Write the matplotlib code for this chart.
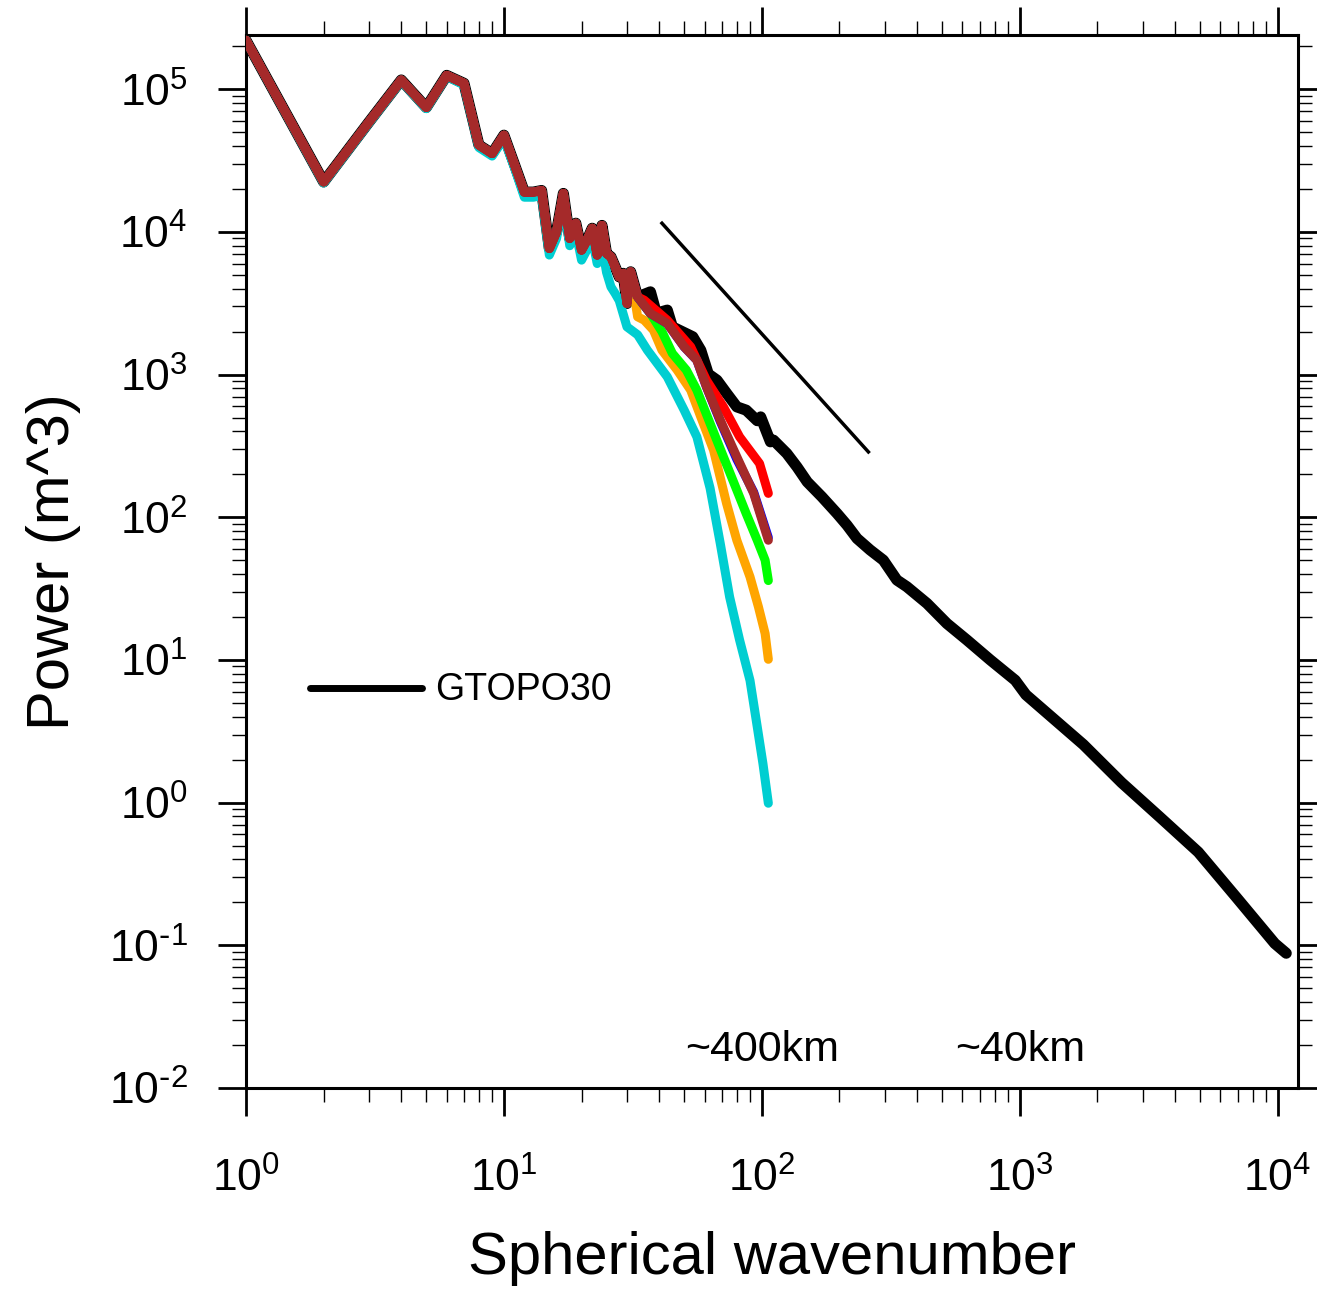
import matplotlib
matplotlib.use("Agg")
import matplotlib.pyplot as plt
import matplotlib.ticker as mticker
import numpy as np

plt.rcParams['font.family'] = ['Liberation Sans', 'DejaVu Sans']
plt.rcParams['axes.unicode_minus'] = False

# shared low-wavenumber part of every spectrum
n_common = [1, 2, 3, 4, 5, 6, 7, 8, 9, 10, 11, 12, 13, 14, 15, 16, 17, 18, 19, 20,
            21, 22, 23, 24, 25, 26, 27, 28, 29, 30]
p_common = [2.2e5, 2.24e4, 5.9e4, 1.16e5, 7.45e4, 1.25e5, 1.1e5, 4.06e4, 3.54e4, 4.76e4,
            2.95e4, 1.9e4, 1.9e4, 1.95e4, 7650, 1.0e4, 1.86e4, 9000, 1.15e4, 7450,
            8750, 1.06e4, 6880, 1.11e4, 7060, 6680, 5690, 4840, 5120, 3150]

# GTOPO30 (black)
n_gtopo = [31, 33, 37, 39, 43, 45, 54, 58, 62, 67, 73, 80, 87, 96, 99, 108, 111, 125,
           137, 150, 171, 196, 214, 234, 263, 296, 334, 365, 437, 522, 624, 769, 961,
           1057, 1766, 2485, 3500, 4924, 6930, 9750, 10800]
p_gtopo = [5250, 3500, 3800, 2690, 2830, 2160, 1840, 1480, 1010, 914, 740, 594, 563,
           475, 505, 338, 347, 280, 225, 177, 139, 106, 88, 71, 59, 50, 36.3, 32.6,
           24.9, 18.0, 13.8, 10.0, 7.2, 5.7, 2.55, 1.38, 0.79, 0.45, 0.216, 0.103, 0.088]

# cyan
n_cyan = [1, 2, 3, 4, 5, 6, 7, 8, 9, 10, 11, 12, 13, 14, 15, 16, 17, 18, 19, 20,
          21, 22, 23, 24, 25, 26, 27, 28, 30, 33, 36, 43, 50, 56, 63, 69, 75, 82,
          90, 96, 101, 106]
p_cyan = [2.2e5, 2.2e4, 5.8e4, 1.14e5, 7.3e4, 1.23e5, 1.07e5, 3.9e4, 3.4e4, 4.5e4,
          2.8e4, 1.75e4, 1.75e4, 1.8e4, 6880, 9000, 1.7e4, 8000, 1.0e4, 6340,
          7500, 9000, 6000, 8000, 5200, 4120, 3700, 3300, 2160, 1900, 1483, 964,
          563, 366, 160, 65.6, 27.7, 13.8, 7.18, 3.40, 1.88, 0.99]

# orange
n_orange = [31, 33, 35, 38, 41, 47, 53, 58, 65, 73, 80, 90, 97, 103, 106]
p_orange = [5250, 2540, 2406, 2048, 1483, 1074, 778, 505, 295, 125, 69, 38.2, 23.6,
            15.3, 10.1]

# green
n_green = [31, 33, 37, 41, 45, 51, 56, 63, 71, 80, 87, 96, 103, 106]
p_green = [5250, 3500, 2680, 2000, 1406, 1074, 778, 455, 265, 155, 106, 69, 50, 36]

# blue
n_blue = [31, 33, 37, 43, 50, 56, 61, 69, 80, 93, 106]
p_blue = [5250, 3500, 2680, 2282, 1564, 1262, 820, 470, 255, 150, 72]

# red
n_red = [31, 33, 35, 43, 53, 61, 71, 82, 98, 106]
p_red = [5250, 3500, 3322, 2406, 1564, 914, 594, 366, 238, 147]

# brown
n_brown = [31, 33, 37, 43, 50, 56, 61, 69, 80, 93, 106]
p_brown = [5250, 3500, 2680, 2282, 1564, 1262, 820, 479, 265, 147, 69]

# k^-2 reference line
n_ref = [41, 259]
p_ref = [1.15e4, 287]


def pow10_label(v, pos):
    e = int(round(np.log10(v)))
    if e < 0:
        return r'$\mathdefault{10^{\text{-}%d}}$' % (-e)
    return r'$\mathdefault{10^{%d}}$' % e


fig = plt.figure(figsize=(13.17, 12.9), dpi=100)
ax = fig.add_axes([0.1868, 0.1566, 0.7988, 0.8163])

ax.plot(n_common + n_gtopo, p_common + p_gtopo, color='black', lw=8,
        solid_capstyle='round', solid_joinstyle='round', zorder=2)
ax.plot(n_cyan, p_cyan, color='#00ced1', lw=6.5, solid_capstyle='round',
        solid_joinstyle='round', zorder=3)
tails = [(n_orange, p_orange, 'orange'), (n_green, p_green, '#00ff00'),
         (n_blue, p_blue, 'blue'), (n_red, p_red, 'red'), (n_brown, p_brown, '#a52a2a')]
for i, (nn, pp, c) in enumerate(tails):
    ax.plot(n_common + nn, p_common + pp, color=c, lw=6.5, solid_capstyle='round',
            solid_joinstyle='round', zorder=4 + i)

ax.plot(n_ref, p_ref, color='black', lw=2.5, zorder=10)

ax.set_xscale('log')
ax.set_yscale('log')
ax.set_xlim(1, 1.2e4)
ax.set_ylim(1e-2, 2.4e5)

ax.xaxis.set_major_locator(mticker.LogLocator(base=10, numticks=20))
ax.yaxis.set_major_locator(mticker.LogLocator(base=10, numticks=20))
ax.xaxis.set_minor_locator(mticker.LogLocator(base=10, subs=np.arange(2, 10), numticks=100))
ax.yaxis.set_minor_locator(mticker.LogLocator(base=10, subs=np.arange(2, 10), numticks=100))
ax.xaxis.set_major_formatter(mticker.FuncFormatter(pow10_label))
ax.yaxis.set_major_formatter(mticker.FuncFormatter(pow10_label))
ax.xaxis.set_minor_formatter(mticker.NullFormatter())
ax.yaxis.set_minor_formatter(mticker.NullFormatter())

ax.tick_params(which='both', direction='out', top=True, right=True, labelsize=32)
ax.tick_params(which='major', length=20, width=2)
ax.tick_params(which='minor', length=10, width=1)
ax.tick_params(axis='x', which='major', pad=30)
ax.tick_params(axis='y', which='major', pad=22)
for s in ax.spines.values():
    s.set_linewidth(2.2)

ax.set_xlabel('Spherical wavenumber', fontsize=43, labelpad=22)
ax.set_ylabel('Power (m^3)', fontsize=43, labelpad=20)

# legend drawn by hand
ax.plot([0.0608, 0.1673], [0.380, 0.380], transform=ax.transAxes, color='black',
        lw=5, solid_capstyle='round')
ax.text(0.1797, 0.378, 'GTOPO30', transform=ax.transAxes, fontsize=27, va='center')

ax.text(100, 0.0185, '~400km', fontsize=31, ha='center', va='center')
ax.text(1000, 0.0185, '~40km', fontsize=31, ha='center', va='center')

fig.savefig('out.png', dpi=100)
